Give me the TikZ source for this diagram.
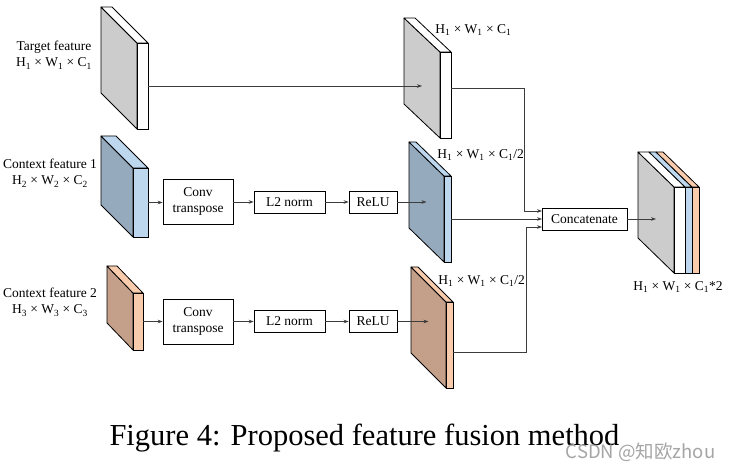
\documentclass[tikz,border=0pt]{standalone}
\usepackage{fontspec}
\setmainfont{Liberation Serif}
\newfontfamily\cjkwm{Noto Sans CJK SC}
\usetikzlibrary{arrows.meta,calc}
\definecolor{facegray}{RGB}{204,204,204}
\definecolor{faceblue}{RGB}{150,170,190}
\definecolor{facebrown}{RGB}{196,160,138}
\definecolor{lightblue}{RGB}{189,215,238}
\definecolor{peach}{RGB}{248,203,173}
\definecolor{linegray}{RGB}{60,60,60}
\definecolor{wmgray}{RGB}{165,165,165}
\newcommand\myslab[9]{%
  \filldraw[fill=#8,line join=round] (#2,#3) -- ({#2+#5},{#3+#6}) -- ({#2+#5},{#3+#6+#7}) -- (#2,{#3+#7}) -- cycle;
  \filldraw[fill=#9,line join=round] (#2,#3) -- ({#2+#4},#3) -- ({#2+#4+#5},{#3+#6}) -- ({#2+#5},{#3+#6}) -- cycle;
  \filldraw[fill=#9] ({#2+#5},{#3+#6}) rectangle ({#2+#5+#4},{#3+#6+#7});
  \coordinate (#1-c) at ({#2+#5/2},{#3+#6/2+#7/2});
  \coordinate (#1-r) at ({#2+#5+#4},{#3+#6+#7/2});
}
\newcommand\mylayer[7]{% x0 y0 offset w dx dy h ; colour via \layercol
  \filldraw[fill=\layercol,line join=round] ({#1+#3},#2) -- ({#1+#3+#4},#2) -- ({#1+#3+#4+#5},{#2+#6}) -- ({#1+#3+#5},{#2+#6}) -- cycle;
  \filldraw[fill=\layercol] ({#1+#3+#5},{#2+#6}) rectangle ({#1+#3+#4+#5},{#2+#6+#7});
}
\begin{document}
\begin{tikzpicture}[x=1pt,y=-1pt,line width=0.8pt,
  box/.style={draw=black,line width=0.8pt,fill=white,inner sep=0pt,align=center,
    font=\fontsize{13.5}{16}\selectfont},
  lbl/.style={inner sep=0pt,align=center,font=\fontsize{13.5}{16.5}\selectfont},
  arr/.style={draw=linegray,line width=0.7pt,-{Stealth[length=5pt,width=3.6pt]}},
  conn/.style={draw=linegray,line width=0.7pt}]
\useasboundingbox (0,0) rectangle (734,470);
\fill[white] (0,0) rectangle (734,470);

% slabs, column 1
\myslab{t1}{101}{7}{11}{36}{36}{86}{facegray}{white}
\myslab{c1a}{101}{136}{15}{32}{32}{69}{faceblue}{lightblue}
\myslab{c2a}{107}{266}{10}{26}{27}{57}{facebrown}{peach}
% slabs, column 2
\myslab{t2}{404}{18}{11}{36}{34}{86}{facegray}{white}
\myslab{c1b}{409}{142}{7}{35}{34}{86}{faceblue}{lightblue}
\myslab{c2b}{411}{267}{7}{35}{35}{86}{facebrown}{peach}
% output slab
\filldraw[fill=facegray,line join=round] (638,152) -- (674,187) -- (674,273) -- (638,238) -- cycle;
\def\layercol{white}\mylayer{638}{152}{0}{11}{36}{35}{86}
\def\layercol{lightblue}\mylayer{638}{152}{11}{7}{36}{35}{86}
\def\layercol{peach}\mylayer{638}{152}{18}{7}{36}{35}{86}
\coordinate (out-c) at (656,212);

% processing boxes
\node[box,minimum width=70pt,minimum height=45pt] (conv1) at (198,201.5) {Conv\\transpose};
\node[box,minimum width=71pt,minimum height=22pt] (l2a) at (289.5,202) {L2 norm};
\node[box,minimum width=48pt,minimum height=22pt] (relu1) at (373,202) {ReLU};
\node[box,minimum width=70pt,minimum height=45pt] (conv2) at (198,321.5) {Conv\\transpose};
\node[box,minimum width=71pt,minimum height=22pt] (l2b) at (289.5,321.5) {L2 norm};
\node[box,minimum width=48pt,minimum height=22pt] (relu2) at (373,321.5) {ReLU};
\node[box,minimum width=85pt,minimum height=22pt] (cat) at (584.5,219) {Concatenate};

% connection points
\coordinate (t2o) at (451,88);
\coordinate (c1o) at (451,219);
\coordinate (c2o) at (453,352);
\coordinate (cin1) at (542,211);
\coordinate (cin2) at (542,219);
\coordinate (cin3) at (542,227);

% connectors
\draw[arr] (t1-r) -- (t1-r -| t2-c);
\draw[arr] (c1a-r) -- (c1a-r -| conv1.west);
\draw[arr] (conv1.east |- l2a) -- (l2a.west);
\draw[arr] (l2a.east) -- (relu1.west);
\draw[arr] (relu1.east) -- (relu1.east -| c1b-c);
\draw[arr] (c2a-r) -- (c2a-r -| conv2.west);
\draw[arr] (conv2.east |- l2b) -- (l2b.west);
\draw[arr] (l2b.east) -- (relu2.west);
\draw[arr] (relu2.east) -- (relu2.east -| c2b-c);
\draw[arr] (t2o) -- ++(73,0) |- (cin1);
\draw[arr] (c1o) -- (cin2);
\draw[arr] (c2o) -- ++(73,0) |- (cin3);
\draw[arr] (cat.east) -- (cat.east -| out-c);

% labels
\node[lbl] (lt1) at (54,55) {Target feature\\H\textsubscript{1} × W\textsubscript{1} × C\textsubscript{1}};
\node[lbl] (lc1) at (50,173) {Context feature 1\\H\textsubscript{2} × W\textsubscript{2} × C\textsubscript{2}};
\node[lbl] (lc2) at (50,302) {Context feature 2\\H\textsubscript{3} × W\textsubscript{3} × C\textsubscript{3}};
\node[lbl,anchor=west] (lt2) at (435,30) {H\textsubscript{1} × W\textsubscript{1} × C\textsubscript{1}};
\node[lbl,anchor=west] (lc1b) at (437,155) {H\textsubscript{1} × W\textsubscript{1} × C\textsubscript{1}/2};
\node[lbl,anchor=west] (lc2b) at (438,281) {H\textsubscript{1} × W\textsubscript{1} × C\textsubscript{1}/2};
\node[lbl] (lout) at (678,287) {H\textsubscript{1} × W\textsubscript{1} × C\textsubscript{1}*2};

% caption and watermark
\node[inner sep=0pt,anchor=base,font=\fontsize{30.5}{34}\selectfont] (cap) at (364.5,446) {Figure 4: Proposed feature fusion method};
\node[inner sep=0pt,text=wmgray,font=\cjkwm\fontsize{18.5}{20}\selectfont] (wm) at (640.5,452) {CSDN @知欧zhou};
\end{tikzpicture}
\end{document}
